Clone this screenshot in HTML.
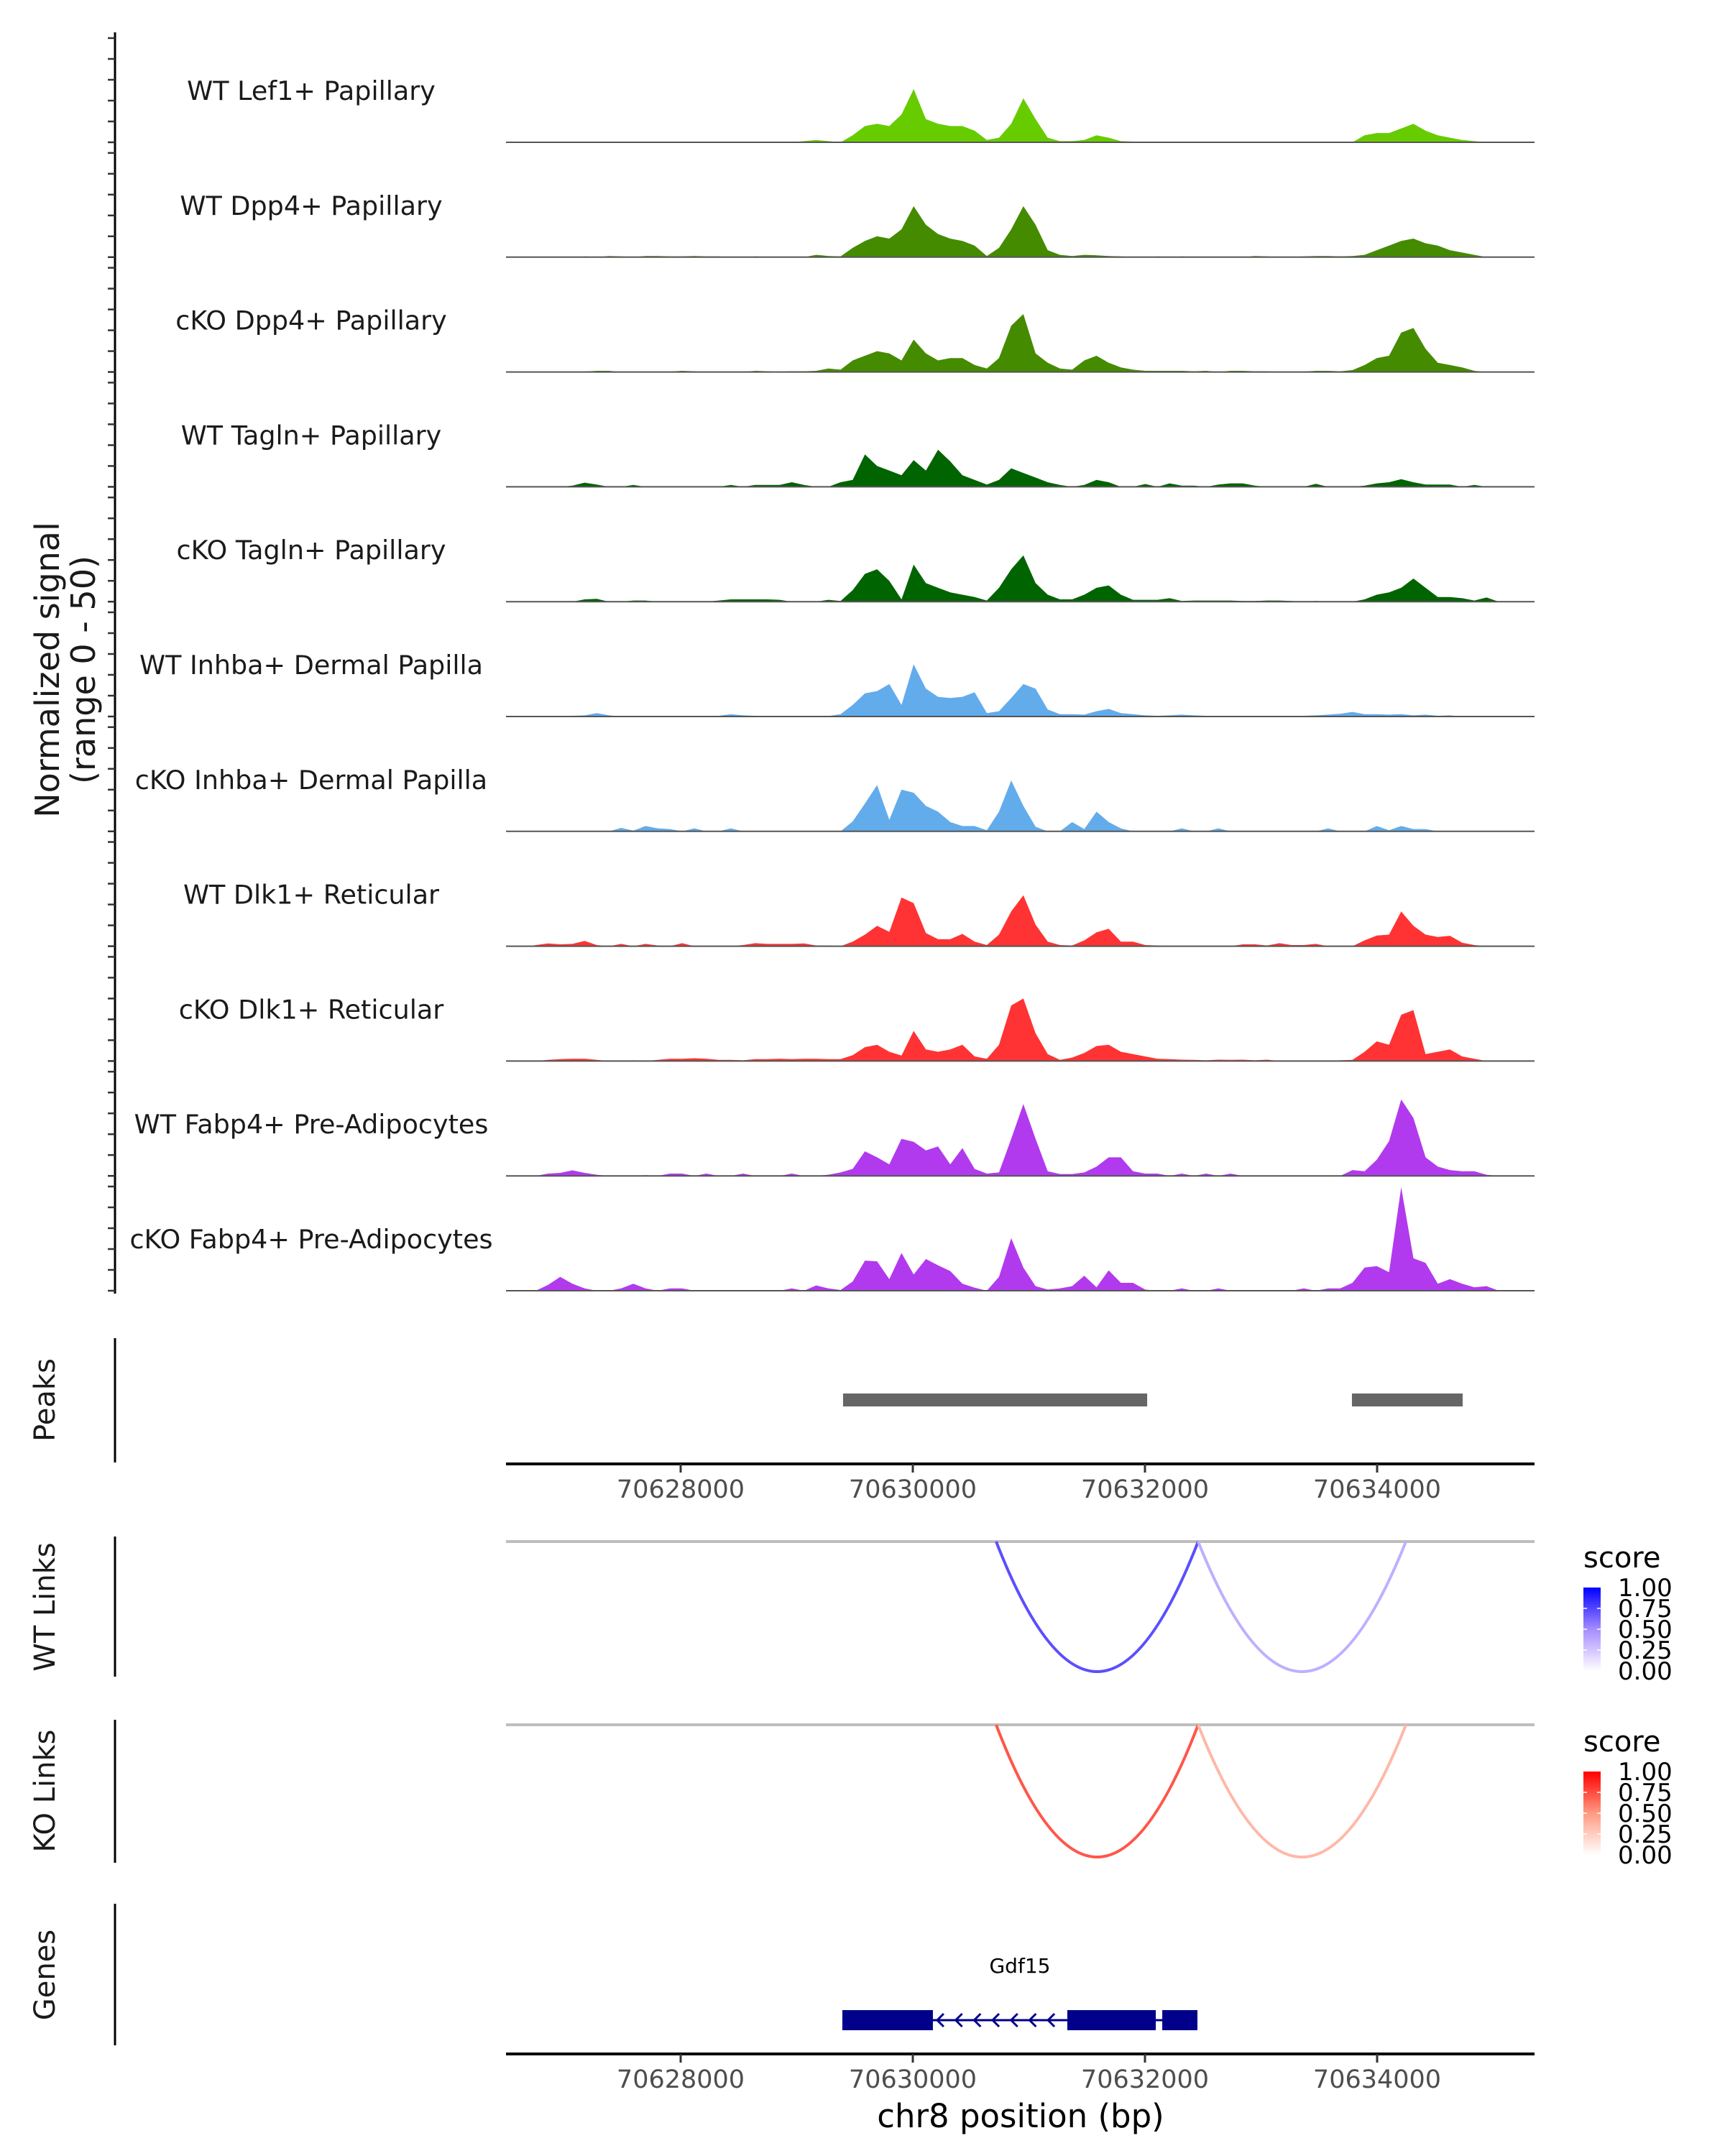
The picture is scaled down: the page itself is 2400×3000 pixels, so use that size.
<!DOCTYPE html>
<html><head><meta charset="utf-8">
<style>
html,body{margin:0;padding:0;background:#fff;}
svg{display:block;font-family:"DejaVu Sans","Liberation Sans",sans-serif;}
</style></head>
<body>
<svg id="chart" width="2400" height="3000" viewBox="0 0 2400 3000" xmlns="http://www.w3.org/2000/svg">
  <rect x="0" y="0" width="2400" height="3000" fill="#ffffff"/>
  <g id="tracks"></g>
  <line x1="160" y1="45" x2="160" y2="1800" stroke="#000" stroke-width="3"/>
  <g id="yticks"></g>
  <g font-size="46" fill="#1a1a1a" text-anchor="middle">
    <text transform="translate(82,932) rotate(-90)">Normalized signal</text>
    <text transform="translate(132,932) rotate(-90)">(range 0 - 50)</text>
  </g>
  <g id="peaks">
    <line x1="160" y1="1862" x2="160" y2="2035" stroke="#000" stroke-width="3"/>
    <text transform="translate(76,1948) rotate(-90)" font-size="40" fill="#1a1a1a" text-anchor="middle">Peaks</text>
  </g>
  <g id="xaxis1"></g>
  <g id="links">
    <line x1="160" y1="2138" x2="160" y2="2333" stroke="#000" stroke-width="3"/>
    <text transform="translate(76,2236) rotate(-90)" font-size="40" fill="#1a1a1a" text-anchor="middle">WT Links</text>
    <line x1="160" y1="2393" x2="160" y2="2592" stroke="#000" stroke-width="3"/>
    <text transform="translate(76,2492) rotate(-90)" font-size="40" fill="#1a1a1a" text-anchor="middle">KO Links</text>
    <line x1="160" y1="2649" x2="160" y2="2846" stroke="#000" stroke-width="3"/>
    <text transform="translate(76,2748) rotate(-90)" font-size="40" fill="#1a1a1a" text-anchor="middle">Genes</text>
  </g>
  <g id="genes"></g>
  <g id="xaxis2"></g>
  <text x="1420" y="2960" font-size="45" fill="#000" text-anchor="middle">chr8 position (bp)</text>
  <defs>
    <linearGradient id="gBlue" x1="0" y1="1" x2="0" y2="0">
      <stop offset="0" stop-color="#ffffff"/><stop offset="0.5" stop-color="#a58cff"/><stop offset="1" stop-color="#0000ff"/>
    </linearGradient>
    <linearGradient id="gRed" x1="0" y1="1" x2="0" y2="0">
      <stop offset="0" stop-color="#ffffff"/><stop offset="0.5" stop-color="#ff9a82"/><stop offset="1" stop-color="#ff0000"/>
    </linearGradient>
  </defs>
  <g id="legends"></g>
</svg>
<script>
// ---- data ----
const binStart = 70626700;
const binSize = 105;
const yMax = 45; // track units filling panel height
const trackNames = ["WT Lef1+ Papillary","WT Dpp4+ Papillary","cKO Dpp4+ Papillary","WT Tagln+ Papillary","cKO Tagln+ Papillary","WT Inhba+ Dermal Papilla","cKO Inhba+ Dermal Papilla","WT Dlk1+ Reticular","cKO Dlk1+ Reticular","WT Fabp4+ Pre-Adipocytes","cKO Fabp4+ Pre-Adipocytes"];
const trackColors = ["#66cc00","#458b00","#458b00","#006400","#006400","#63acec","#63acec","#ff3333","#ff3333","#b23aee","#b23aee"];
const sigLef1WT = [0,0,0,0.3,0.3,0,0,0,0,0.2,0,0.2, 0,0.2,0,0.2,0,0.3,0,0.2,0,0,0.5,1,0.5,0, 3,7,8,7,12,23,10,8,7,7,5, 1,2,8,19,10,2,0.5, 0.5,1,3,2,0.5,0.3, 0.3,0.2,0,0.2,0.3,0,0.2,0,0,0.2,0,0.2,0.2,0,0,0.3,0,0, 3,4,4,6,8,5,3,2,1, 0.5,0,0,0,0];
const sigDpp4WT = [0,0,0,0,0.3,0,0.5,0.3,0,0.5,0.5,0.3, 0.3,0.5,0.3,0.3,0,0,0.3,0,0,0,0,1,0.5,0.3, 4,7,9,8,12,22,14,10,8,7,5, 0.5,4,12,22,14,3,1, 0.5,1,0.8,0.5,0.3,0, 0,0.3,0,0.3,0,0,0,0,0,0.5,0.3,0,0,0.3,0.5,0.5,0.3,0.5, 1,3,5,7,8,6,5,3,2, 1,0,0,0,0];
const sigDpp4KO = [0,0,0,0,0.2,0.5,0.5,0,0,0,0,0.2, 0.5,0.3,0,0.2,0,0,0.5,0.3,0,0.3,0.3,0.5,1.5,1, 5,7,9,8,5,14,8,5,6,6,3, 1.5,6,20,25,8,4,1.5, 1,5,7,4,2,1, 0.5,0.5,0.5,0.5,0.3,0.5,0,0.5,0.5,0.3,0.3,0,0.2,0.2,0.5,0.5,0.3,0.8, 3,6,7,17,19,10,4,3,2, 0.5,0,0,0,0];
const sigTaglnWT = [0,0,0,0.5,1.8,1,0,0,0.8,0,0,0, 0,0,0,0,0.8,0,0.8,0.8,0.8,2,0.8,0,0,2, 3,14,9,7,5,11.5,7,16,11,5,3, 1,3,8,6,4,2,0.8, 0,0.8,3,2,0,0, 1.2,0,1.5,0.5,0.5,0,1,1.5,1.5,0.5,0,0,0,0,1.3,0,0,0, 0.5,1.5,2,3.3,2,1,1,1,0, 0.8,0,0,0,0];
const sigTaglnKO = [0,0,0,0,1,1.2,0,0,0.5,0.5,0,0, 0,0,0,0.5,1,1,1,1,0.8,0,0,0,0.8,0.3, 5,12,14,9,1,16,8,6,4,3,2, 0.5,6,14,20,8,3,1, 1,3,6,7,3,0.8, 0.8,0.8,1.5,0.3,0.5,0.5,0.5,0.5,0.3,0.3,0.5,0.5,0.3,0,0.3,0,0,0, 1,3,4,6,10,6,2,2,1.5, 0.5,1.8,0,0,0];
const sigInhbaWT = [0,0,0,0.3,0.5,1.5,0.5,0,0,0,0,0, 0,0,0,0.3,1,0.5,0.3,0,0,0,0.3,0,0.2,1, 5,10,11,14,5,22.6,12,8.5,8,8.5,10.5, 1.5,2.3,8,14,12,3,1, 1,0.8,2.3,3.3,1.5,1, 0.5,0.3,0.5,0.8,0.5,0.3,0.3,0,0.3,0.3,0,0,0.3,0.3,0.5,0.8,1.2,2, 1,1,0.8,1,0.5,0.8,0.3,0.5,0, 0,0,0,0,0];
const sigInhbaKO = [0,0,0,0,0,0,0,1.5,0.3,2.3,1.3,1, 0,1.3,0,0,1.3,0,0,0,0,0,0,0,0,0, 4.3,12,20,5,18,16.7,11,8.5,4,2.3,2.3, 0.5,8.5,22,11,2,0,0, 4,1,8.5,4,1.3,0, 0,0,0,1.3,0,0,1.3,0,0,0,0,0,0,0,0,1.3,0,0, 0,2.3,0.5,2.3,1,1,0,0,0, 0,0,0,0,0];
const sigDlk1WT = [0.5,1.2,0.8,1,2.3,0.5,0,1,0,1,0.3,0, 1.3,0,0,0,0,0.5,1.3,1,1,1,1.2,0.3,0.3,0, 2,5,8.8,6.2,21,18.6,5.7,3,3,5.3,2, 0.5,5,15,22,9.3,2,0.5, 0.3,2.5,6,7.5,2,2, 0.5,0.3,0,0,0,0,0,0,0.8,0.8,0.3,1.3,0.5,0.5,1,0,0,0, 2.5,4.6,5,15,8.8,5,4,4.5,1.5, 0.5,0,0,0,0];
const sigDlk1KO = [0,0.5,0.8,1,1,0.5,0,0,0.3,0,0.5,1, 1,1.2,1,0.5,0.5,0.3,0.8,0.8,1,0.8,1,1,0.8,0.8, 2.5,6,7,4,2.4,13,5,4,5,7,2, 1,7,24,27,12,3,0.5, 1.5,3.5,6.5,7,4,3, 2,1,0.8,0.6,0.5,0.3,0.6,0.5,0.6,0.3,0.6,0,0,0,0,0,0.3,0.5, 4,8.5,7,20,22,3,4,5,2, 1,0,0,0,0];
const sigFabp4WT = [0,1,1.3,2.4,1.3,0.5,0,0,0,0.3,0,1, 1,0,1,0,0,1,0,0,0,1,0,0,0.5,1.5, 3,10.6,8,5,16,14.7,11,12.7,5,12,3, 1,1.5,16,31,16,2,0.8, 0.8,1.5,4,8,8,2, 1,1,0,1,0,1,0,1,0,0,0,0,0,0,0,0,0,2.5, 2,7,15,33,25,8,4,2.5,2, 2,0.5,0,0,0];
const sigFabp4KO = [0,2.5,6,3,1,0,0,1,3,1,0,1, 1,0,0,0,0,0,0,0,0,1,0,2.3,1,0.3, 4,13,12.7,5,16.3,7,13.7,11,8.5,3,1.3, 0,6,22.7,10,2,0.5,1, 2,6.5,1.5,8.8,3.4,3.4, 0.5,0,0,1,0,0,1,0,0,0,0,0,0,1,0,1,1,3.4, 10,10.6,8,44.7,14,12,3,5,3, 1.5,2,0,0,0];
const signals = [sigLef1WT,sigDpp4WT,sigDpp4KO,sigTaglnWT,sigTaglnKO,sigInhbaWT,sigInhbaKO,sigDlk1WT,sigDlk1KO,sigFabp4WT,sigFabp4KO];
const peakStarts = [70629399, 70633783];
const peakEnds = [70632019, 70634737];
const xTicks = [70628000, 70630000, 70632000, 70634000];
const xTickLabels = ["70628000","70630000","70632000","70634000"];
const wtLinkStarts = [70630718, 70632458];
const wtLinkEnds = [70632458, 70634248];
const wtLinkScores = [0.72, 0.35];
const koLinkStarts = [70630718, 70632458];
const koLinkEnds = [70632458, 70634248];
const koLinkScores = [0.72, 0.35];
const legendValues = [1.00, 0.75, 0.50, 0.25, 0.00];
const legendLabels = ["1.00","0.75","0.50","0.25","0.00"];
const geneName = "Gdf15";
const geneStart = 70629393, geneEnd = 70632452;
const exonStarts = [70629393, 70631331, 70632149];
const exonEnds = [70630173, 70632093, 70632452];

// ---- scales ----
const NS = "http://www.w3.org/2000/svg";
const X0 = 704, X1 = 2135;
function xs(bp){ return 947 + (bp - 70628000) * 0.1615; }
function trackBase(k){ return 198 + k * 159.8; }
function ys(v, k){ return trackBase(k) - Math.min(v, yMax) * 145 / yMax; }
function mk(tag, attrs, parent){ const e = document.createElementNS(NS, tag); for (const a in attrs) e.setAttribute(a, attrs[a]); parent.appendChild(e); return e; }
function lerpHex(a, b, t){ const pa=[1,3,5].map(i=>parseInt(a.substr(i,2),16)), pb=[1,3,5].map(i=>parseInt(b.substr(i,2),16)); return "rgb("+pa.map((v,i)=>Math.round(v+(pb[i]-v)*t)).join(",")+")"; }
function scoreColor(s, stops){ if (s <= 0.5) return lerpHex(stops[0], stops[1], s/0.5); return lerpHex(stops[1], stops[2], (s-0.5)/0.5); }

// ---- tracks ----
const gT = document.getElementById("tracks");
const gY = document.getElementById("yticks");
signals.forEach((arr, k) => {
  const g = mk("g", {}, gT);
  
  
  const base = trackBase(k);
  let d = "M" + xs(binStart).toFixed(1) + "," + base;
  arr.forEach((v, i) => { d += " L" + xs(binStart + binSize*i + binSize/2).toFixed(1) + "," + ys(v, k).toFixed(1); });
  d += " L" + xs(binStart + binSize*arr.length).toFixed(1) + "," + base + " Z";
  const p = mk("path", {d: d, fill: trackColors[k], stroke: "none"}, g);
  
  
  const bl = mk("line", {x1: X0, x2: X1, y1: base, y2: base, stroke: "#555", "stroke-width": 2}, g);
  
  
  const t = mk("text", {x: 433, y: base - 59, "font-size": 36.5, fill: "#1a1a1a", "text-anchor": "middle"}, g);
  t.textContent = trackNames[k];
  
  
  for (let j = 0; j <= 5; j++) {
    const yy = base - j * 29;
    const tk = mk("line", {x1: 150, x2: 160, y1: yy, y2: yy, stroke: "#333", "stroke-width": 2.5}, gY);
    
    
  }
});

// ---- peaks ----
const gP = document.getElementById("peaks");
peakStarts.forEach((s, i) => {
  const r = mk("rect", {x: xs(s), y: 1939, width: xs(peakEnds[i]) - xs(s), height: 18, fill: "#666666"}, gP);
  
  
});

// ---- x axes ----
function drawAxis(g, y){
  const l = mk("line", {x1: X0, x2: X1, y1: y, y2: y, stroke: "#000", "stroke-width": 4}, g);
  
  
  xTicks.forEach((bp, i) => {
    const tk = mk("line", {x1: xs(bp), x2: xs(bp), y1: y, y2: y + 12, stroke: "#333", "stroke-width": 3}, g);
    
    
    const t = mk("text", {x: xs(bp), y: y + 47, "font-size": 35, fill: "#4d4d4d", "text-anchor": "middle"}, g);
    t.textContent = xTickLabels[i];
    
    
  });
}
drawAxis(document.getElementById("xaxis1"), 2037);
drawAxis(document.getElementById("xaxis2"), 2858);

// ---- links ----
const gL = document.getElementById("links");
function drawLinks(starts, ends, scores, base, depth, stops, name){
  const bl = mk("line", {x1: X0, x2: X1, y1: base, y2: base, stroke: "#bebebe", "stroke-width": 4}, gL);
  
  
  starts.forEach((s, i) => {
    const a = xs(s), b = xs(ends[i]);
    const d = "M" + a + "," + base + " Q" + ((a + b) / 2) + "," + (base + 2 * depth) + " " + b + "," + base;
    const p = mk("path", {d: d, fill: "none", stroke: scoreColor(scores[i], stops), "stroke-width": 4}, gL);
    
    
  });
}
drawLinks(wtLinkStarts, wtLinkEnds, wtLinkScores, 2145, 181, ["#ffffff","#a58cff","#0000ff"], "wt-link");
drawLinks(koLinkStarts, koLinkEnds, koLinkScores, 2400, 184, ["#ffffff","#ff9a82","#ff0000"], "ko-link");

// ---- legends ----
const gLeg = document.getElementById("legends");
function drawLegend(y0, grad, name){
  const g = mk("g", {}, gLeg);
  
  
  const t = mk("text", {x: 2203, y: y0 + 31, "font-size": 40, fill: "#000"}, g);
  t.textContent = "score";
  const top = y0 + 59, h = 116;
  mk("rect", {x: 2203, y: top, width: 24, height: h, fill: "url(#" + grad + ")"}, g);
  legendValues.forEach((v, i) => {
    const yy = top + (1 - v) * h;
    if (v > 0 && v < 1) { mk("line", {x1: 2203, x2: 2208, y1: yy, y2: yy, stroke: "#fff", "stroke-width": 1.5}, g); mk("line", {x1: 2222, x2: 2227, y1: yy, y2: yy, stroke: "#fff", "stroke-width": 1.5}, g); }
    const lt = mk("text", {x: 2251, y: yy + 12, "font-size": 34, fill: "#000"}, g);
    lt.textContent = legendLabels[i];
    
    
  });
}
drawLegend(2150, "gBlue", "wt-score-legend");
drawLegend(2406, "gRed", "ko-score-legend");

// ---- genes ----
const gG = document.getElementById("genes");
const gy = 2811;
const intr = mk("line", {x1: xs(geneStart), x2: xs(geneEnd), y1: gy, y2: gy, stroke: "#00008b", "stroke-width": 3}, gG);


exonStarts.forEach((s, i) => {
  const r = mk("rect", {x: xs(s), y: gy - 14, width: xs(exonEnds[i]) - xs(s), height: 28, fill: "#00008b"}, gG);
  
  
});
const ax0 = xs(exonEnds[0]), ax1 = xs(exonStarts[1]);
for (let k = 0; k < 7; k++) {
  const ax = ax0 + 6 + k * (ax1 - ax0 - 20) / 6.5;
  const ar = mk("path", {d: "M" + (ax+9) + "," + (gy-9) + " L" + ax + "," + gy + " L" + (ax+9) + "," + (gy+9), fill: "none", stroke: "#00008b", "stroke-width": 3}, gG);
  
  
}
const gt = mk("text", {x: (xs(geneStart) + xs(geneEnd)) / 2, y: 2745, "font-size": 28, fill: "#000", "text-anchor": "middle"}, gG);
gt.textContent = geneName;


</script>
</body></html>
